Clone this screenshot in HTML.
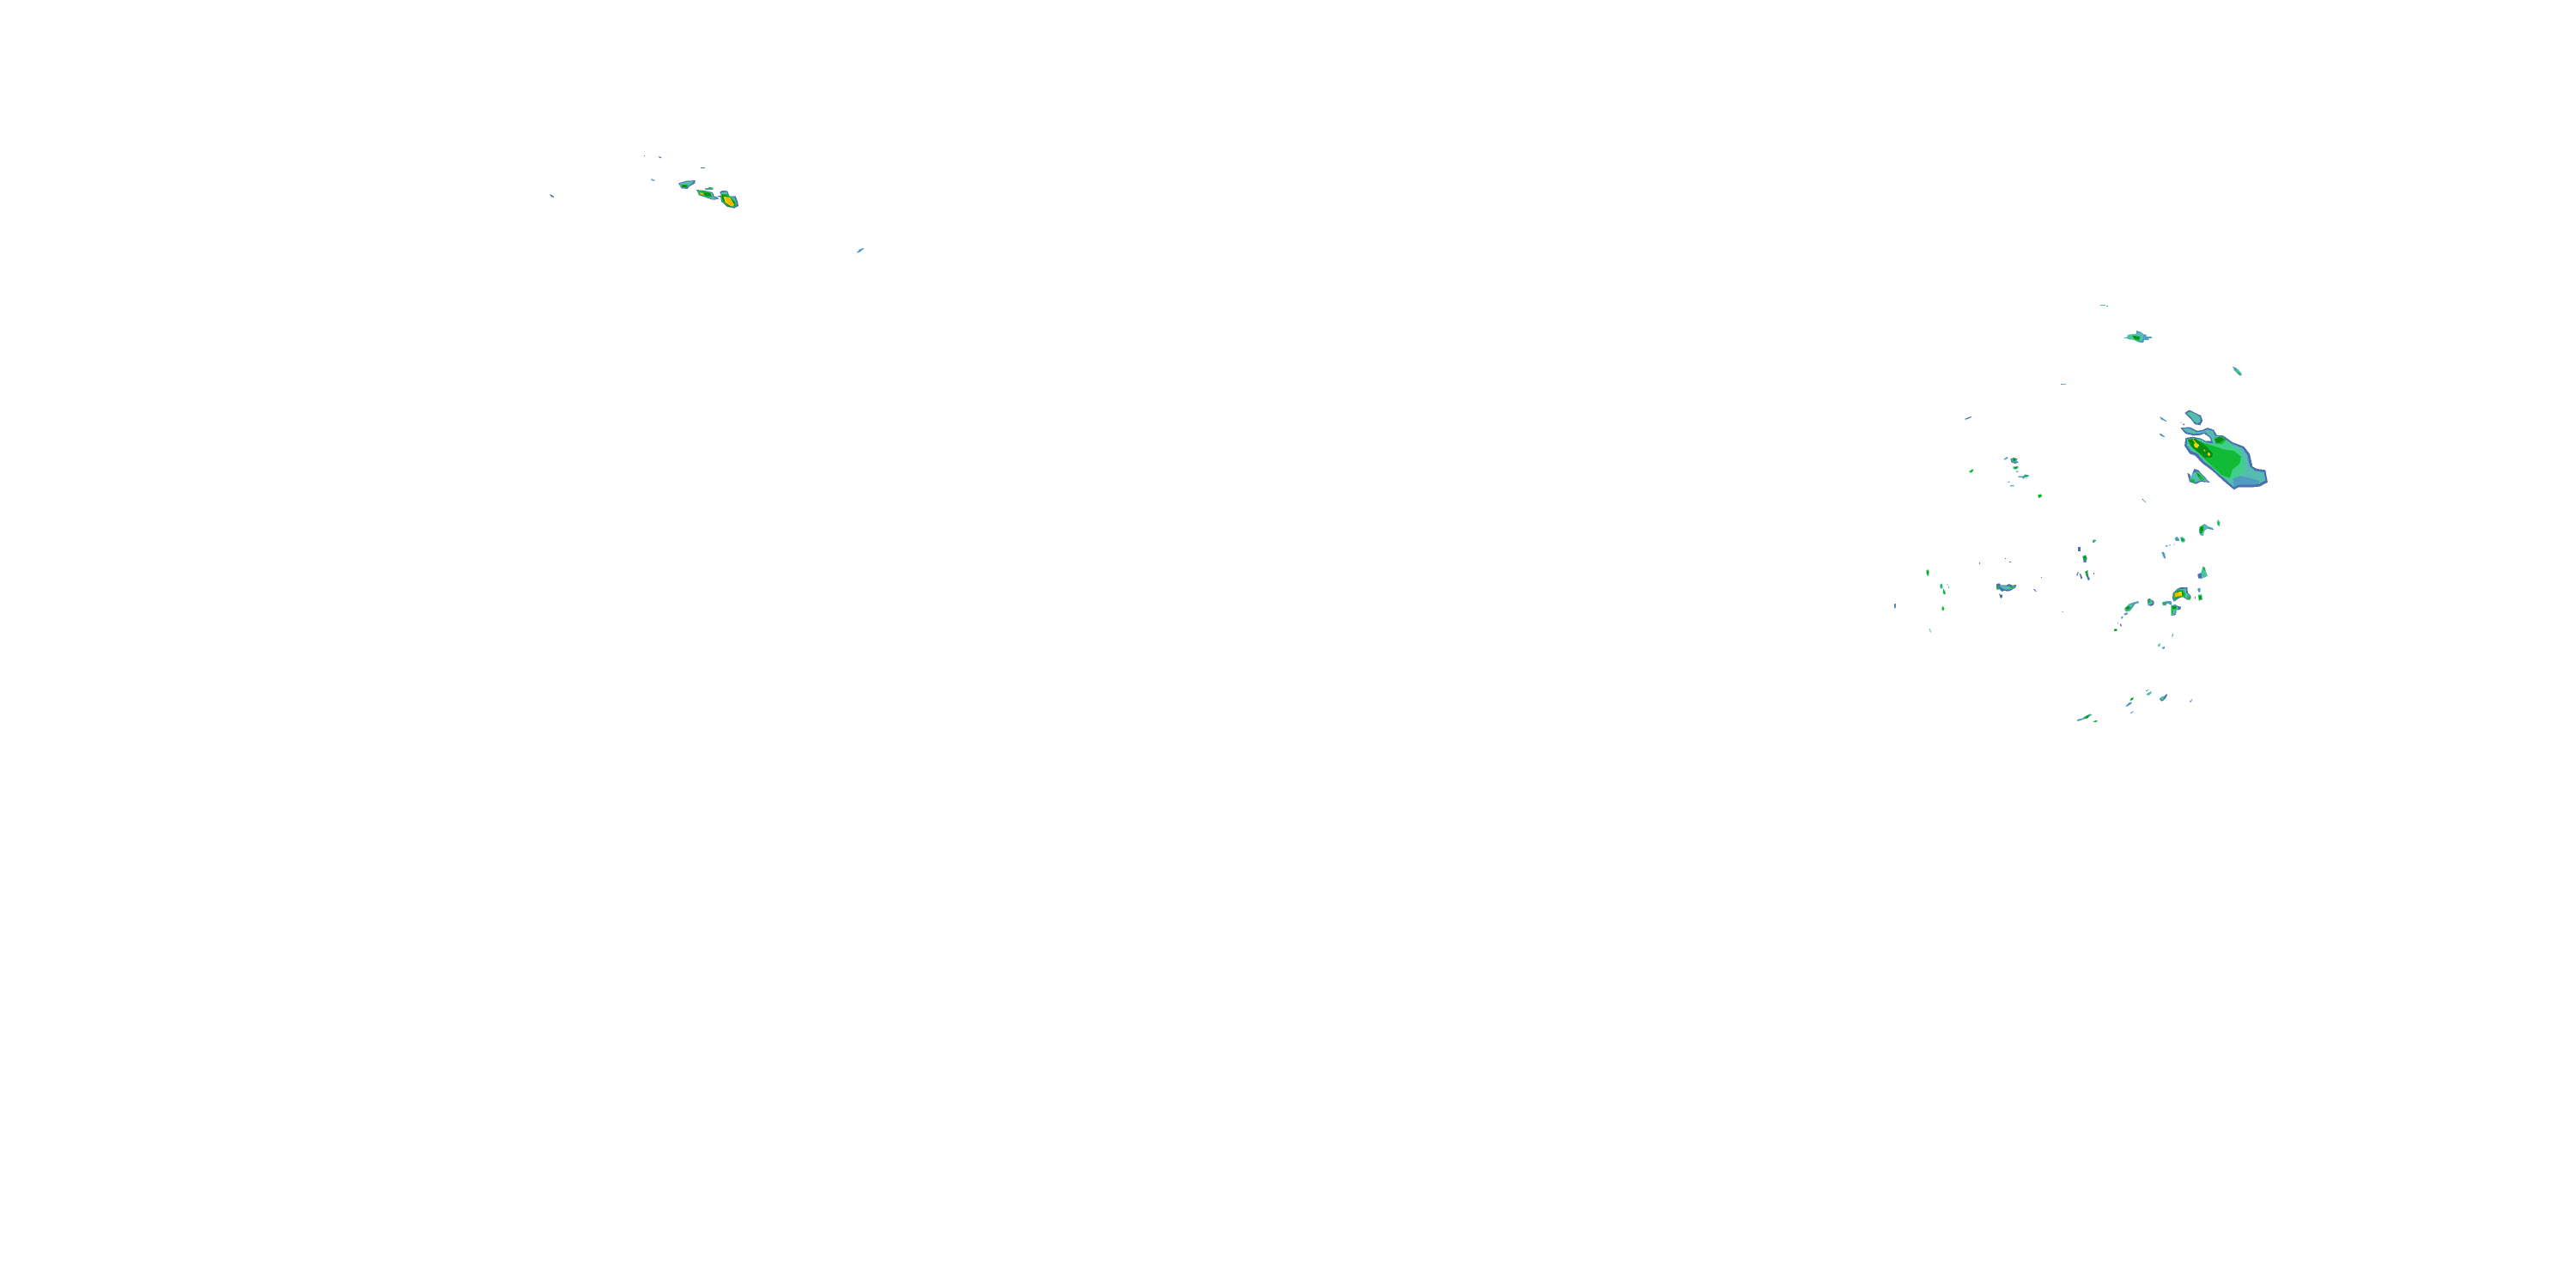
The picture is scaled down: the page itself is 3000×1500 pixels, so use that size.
<!DOCTYPE html>
<html><head><meta charset="utf-8"><style>
html,body{margin:0;padding:0;background:#fff}
svg{display:block}
.b{fill:#4b70b2}.c{fill:#4f9cc0}.t{fill:#55bdb0}.l{fill:#3fcf8a}.g{fill:#12bb35}.d{fill:#078f14}.y{fill:#f6d800}.o{fill:#f7b500}
</style></head><body>
<svg xmlns="http://www.w3.org/2000/svg" width="3000" height="1500" viewBox="0 0 3000 1500" shape-rendering="crispEdges">
<rect width="3000" height="1500" fill="#fff"/>

<!-- Main storm, zoom 1 coords -->
<g transform="translate(2500,460) scale(.33333)">
<polygon class="b" points="133,63 148,52 165,60 190,72 196,90 187,106 168,102 155,85 145,75"/>
<polygon class="t" points="140,64 150,58 170,66 188,78 188,92 178,100 165,92 155,78"/>
<polygon class="l" points="140,64 150,63 158,72 148,72"/>
<polygon class="c" points="45,75 55,80 71,92 68,93 50,85"/>
<polygon class="c" points="45,136 52,138 63,146 60,148 48,142"/>
<polygon class="b" points="118,94 122,94 122,98 118,98"/><polygon class="b" points="127,99 134,104 131,106 125,102"/>
<polygon class="b" points="118,115 150,112 176,125 195,122 213,114 235,122 245,140 268,142 300,165 340,180 360,205 370,250 385,258 415,262 423,305 395,320 360,323 322,322 305,331 268,300 230,265 192,237 170,212 150,205 132,178 136,150 160,146 190,152 205,160 225,160 220,148 200,135 190,140 165,142 135,135"/>
<polygon class="t" points="125,118 150,117 175,130 196,127 212,120 232,126 238,142 265,147 297,170 335,186 352,210 360,250 380,265 410,270 415,298 390,312 355,310 320,312 305,322 272,292 235,258 198,230 178,205 155,195 140,176 142,155 162,150 195,157 210,168 232,170 225,148 205,130 190,134 165,136 140,130"/>
<polygon class="c" points="300,280 340,285 360,290 395,300 390,312 355,314 322,314 305,322"/>
<polygon class="l" points="140,155 165,150 200,165 235,170 265,150 290,170 325,195 340,230 345,262 320,285 290,295 262,285 230,255 200,228 178,205 155,190"/>
<polygon class="g" points="142,158 165,152 200,168 240,180 268,190 305,195 330,215 325,240 300,260 290,290 262,280 230,250 203,225 180,202 160,185"/>
<polygon class="g" points="236,150 265,145 278,158 262,172 240,170"/>
<polygon class="d" points="238,155 255,145 272,155 258,165 245,168"/>
<polygon class="d" points="145,155 170,152 200,172 232,205 228,218 205,220 180,200 155,180"/>
<polygon class="y" points="165,172 172,166 184,175 178,185 168,183"/>
<polygon class="y" points="212,204 218,201 223,209 216,214"/>
<polygon class="o" points="160,155 165,155 175,170 170,170"/><polygon class="o" points="200,190 206,192 204,198 199,195"/>
<polygon class="b" points="142,272 150,276 155,285 166,258 180,262 221,306 190,303 172,311 150,304"/>
<polygon class="t" points="150,290 165,270 180,268 215,303 190,298 172,305 155,303"/>
<polygon class="g" points="172,270 182,275 205,298 185,295"/><polygon class="g" points="155,292 168,296 168,306 155,302"/>
<polygon class="d" points="176,272 186,282 180,288"/>
</g>

<!-- Northwest cluster, zoom 2 coords -->
<g transform="translate(620,160) scale(.33333)">
<rect class="b" x="390" y="63" width="3" height="3"/><polygon class="b" points="441,66 450,69 450,73 444,72"/>
<rect class="b" x="588" y="105" width="15" height="3"/>
<polygon class="b" points="60,198 75,206 75,210 66,208"/>
<polygon class="c" points="414,144 428,149 428,153 416,150"/>
<polygon class="b" points="510,160 538,152 570,150 568,160 548,172 542,180 520,178 516,170"/>
<polygon class="t" points="514,162 540,155 566,153 548,168 540,176 522,175"/>
<polygon class="g" points="520,165 544,165 542,175 524,175"/><rect class="d" x="524" y="166" width="14" height="8"/>
<polygon class="c" points="603,178 632,175 632,183 603,183"/><rect class="g" x="615" y="174" width="11" height="6"/>
<polygon class="b" points="573,183 598,185 630,192 635,205 650,210 650,216 630,218 600,208 582,202"/>
<polygon class="t" points="577,185 598,187 628,194 632,208 648,212 630,216 602,206 582,199"/>
<polygon class="g" points="578,184 596,186 620,194 628,208 610,208 584,200"/>
<polygon class="d" points="598,194 622,194 626,206 606,206"/><polygon class="o" points="584,192 598,196 598,202 588,199"/>
<polygon class="b" points="645,204 660,203 655,192 662,186 682,187 688,205 710,205 718,225 720,240 705,248 680,242 660,224 658,210"/>
<polygon class="t" points="660,192 680,190 684,205 706,210 714,230 712,240 702,244 682,238 664,222"/>
<polygon class="g" points="660,198 682,198 698,212 712,228 712,240 695,245 675,235 660,218"/>
<polygon class="d" points="662,200 680,204 706,225 708,238 690,244 675,232 664,216"/>
<polygon class="y" points="668,206 690,210 706,236 696,242 674,228"/>
<polygon class="o" points="674,208 688,212 704,234 694,240 678,226"/>
<polygon class="c" points="1158,387 1158,390 1152,394 1146,400 1138,402 1134,404 1134,402 1142,392 1152,388"/>
</g>

<!-- Northern cell, zoom 5 coords -->
<g transform="translate(2400,340) scale(.33333)">
<rect class="l" x="138" y="45" width="18" height="3"/><rect class="c" x="159" y="48" width="6" height="3"/>
<rect class="t" x="0" y="321" width="18" height="3"/><rect class="b" x="0" y="321" width="3" height="3"/>
<polygon class="c" points="222,159 232,158 234,150 254,147 264,146 264,135 280,140 290,148 302,150 295,155 316,156 320,161 305,163 310,168 292,168 288,177 272,176 256,168 234,165 232,162 222,162"/>
<polygon class="t" points="232,152 254,148 276,142 288,148 288,165 280,172 258,168 234,163"/>
<polygon class="l" points="240,152 258,150 280,160 285,168 270,172 255,165 242,160"/>
<polygon class="g" points="250,152 274,155 276,170 260,168"/><polygon class="d" points="250,153 276,157 274,165 256,163"/>
<polygon class="c" points="600,261 612,265 632,285 632,291 626,293 606,274"/>
<polygon class="l" points="610,272 620,270 630,284 624,288"/><polygon class="g" points="616,276 628,286 622,287"/>
</g>
<polygon class="b" points="2288,488 2295,485 2296,486 2289,489"/>

<!-- Mid cluster, zoom 4 coords -->
<g transform="translate(2180,500) scale(.33333)">
<polygon class="c" points="1005,15 1012,16 1023,25 1018,26"/>
<polygon class="c" points="460,105 470,97 476,97 474,102 464,107"/>
<polygon class="b" points="484,103 495,99 510,103 506,108 512,116 500,120 488,116"/>
<polygon class="t" points="488,104 505,102 508,116 492,116"/><polygon class="g" points="492,102 504,102 502,112 494,112"/><rect class="d" x="494" y="104" width="7" height="6"/>
<polygon class="t" points="492,131 512,129 512,134 504,140 495,140"/><polygon class="g" points="497,130 510,130 506,138 498,138"/><rect class="d" x="500" y="131" width="6" height="5"/>
<rect class="t" x="504" y="146" width="8" height="4"/>
<polygon class="c" points="512,164 530,163 534,158 549,159 546,166 534,168 530,174 524,168 512,168"/>
<polygon class="g" points="534,160 548,160 544,166 534,166"/>
<rect class="b" x="538" y="170" width="3" height="3"/>
<polygon class="c" points="474,184 482,181 482,184 476,186"/>
<rect class="t" x="483" y="195" width="14" height="5"/>
<polygon class="g" points="340,147 352,139 356,140 350,150 342,152"/><polygon class="d" points="344,146 350,142 350,148"/>
<polygon class="g" points="580,229 590,226 595,232 590,238 582,240"/><polygon class="d" points="582,232 588,232 586,238"/>
<polygon class="b" points="942,243 947,243 952,250"/><polygon class="g" points="946,246 958,253 954,255"/>
<rect class="b" x="720" y="411" width="9" height="15"/>
<polygon class="t" points="770,388 780,384 783,390 776,397 771,396"/><rect class="g" x="772" y="388" width="7" height="6"/>
<polygon class="b" points="736,443 748,439 752,450 748,465 740,465"/><polygon class="g" points="738,442 750,443 748,458 740,458"/><rect class="d" x="740" y="445" width="7" height="7"/>
<polygon class="b" points="725,503 730,505 736,520 730,523"/>
<polygon class="b" points="714,510 720,497 722,500 718,512"/>
<polygon class="b" points="745,497 754,492 756,510 762,525 756,528 750,515"/><polygon class="g" points="745,495 754,495 754,510 747,510"/><rect class="d" x="748" y="497" width="5" height="6"/>
<rect class="b" x="774" y="501" width="3" height="6"/>
<rect class="b" x="375" y="465" width="3" height="6"/><rect class="b" x="465" y="450" width="3" height="3"/><rect class="b" x="480" y="462" width="6" height="3"/><rect class="b" x="591" y="516" width="3" height="3"/>
<rect class="b" x="664" y="636" width="3" height="3"/>
<polygon class="b" points="564,558 568,558 576,566 572,567"/>
<polygon class="t" points="190,492 196,489 200,496 200,512 192,512"/><polygon class="g" points="190,492 200,494 198,508 192,508"/><rect class="d" x="193" y="496" width="5" height="7"/>
<polygon class="t" points="238,541 246,538 248,556 240,557"/><polygon class="g" points="238,542 245,544 244,554 239,554"/>
<rect class="b" x="262" y="541" width="3" height="3"/><rect class="l" x="267" y="549" width="3" height="6"/>
<polygon class="g" points="250,556 256,568 258,574 252,578 248,570"/>
<polygon class="c" points="78,610 84,609 84,624 78,626"/><rect class="b" x="78" y="610" width="4" height="6"/>
<polygon class="g" points="246,618 250,620 254,626 250,634 244,630"/>
<polygon class="t" points="200,696 204,698 207,710 204,710"/>
<polygon class="b" points="435,540 446,538 450,544 470,544 480,540 490,545 504,543 503,552 494,558 480,566 460,564 454,568 444,558 436,562"/>
<polygon class="t" points="445,546 470,548 490,550 498,546 495,556 478,560 458,558"/>
<polygon class="g" points="436,548 445,550 444,560 438,560"/><polygon class="g" points="482,549 496,546 492,556 484,555"/>
<polygon class="b" points="446,578 456,578 456,586 452,591 447,586"/><rect class="b" x="444" y="575" width="3" height="3"/>
</g>

<!-- Southeast cluster, zoom 3 coords -->
<g transform="translate(2440,600) scale(.33333)">
<rect class="b" x="0" y="87" width="3" height="3"/>
<polygon class="c" points="364,42 382,30 396,40 410,44 416,52 405,50 392,47 380,55 378,72 368,70 363,60"/>
<polygon class="t" points="366,44 382,33 395,43 385,50 376,68 368,65"/>
<polygon class="g" points="366,40 378,36 380,48 374,65 366,62"/><rect class="d" x="368" y="42" width="8" height="12"/><rect class="d" x="367" y="56" width="5" height="6"/>
<polygon class="t" points="425,22 430,15 437,26 434,40 428,35"/><polygon class="g" points="426,26 434,24 434,34 428,34"/>
<polygon class="c" points="278,82 285,75 292,80 295,90 282,90"/>
<polygon class="t" points="297,78 305,75 315,85 312,95 302,94"/><polygon class="g" points="300,80 312,84 310,92 302,92"/><rect class="d" x="302" y="83" width="6" height="6"/>
<rect class="c" x="246" y="105" width="8" height="4"/><rect class="b" x="259" y="102" width="4" height="4"/><rect class="c" x="274" y="100" width="4" height="4"/>
<polygon class="c" points="232,130 240,128 245,140 246,152 240,150"/>
<polygon class="t" points="376,178 384,182 386,192 390,205 393,212 385,216 372,222 360,220 358,206 370,200"/>
<polygon class="b" points="358,206 372,204 372,220 360,220"/><polygon class="g" points="376,182 385,186 384,194 378,194"/><polygon class="l" points="372,195 382,196 382,212 374,212"/>
<polygon class="c" points="358,256 368,254 368,268 360,268"/>
<polygon class="t" points="360,278 372,276 375,295 362,299"/><rect class="g" x="361" y="280" width="12" height="16"/><rect class="d" x="363" y="284" width="7" height="8"/>
<rect class="b" x="348" y="285" width="3" height="6"/>
<polygon class="b" points="272,272 285,258 298,252 322,252 324,270 335,282 333,296 322,296 306,285 290,292 276,302 270,292"/>
<polygon class="t" points="274,274 288,260 318,256 318,270 332,284 326,294 306,282 288,290 276,298"/>
<polygon class="g" points="272,274 288,262 306,260 316,272 314,286 296,286 278,296"/>
<polygon class="d" points="274,276 290,264 305,264 310,280 296,284 278,290"/>
<polygon class="o" points="278,272 302,266 304,282 290,284 277,288"/><polygon class="y" points="292,268 302,266 304,280 294,278"/>
<polygon class="g" points="322,282 334,284 332,296 324,294"/>
<polygon class="c" points="234,304 250,300 266,300 268,315 252,308 246,316 236,314"/><polygon class="g" points="236,304 246,304 244,314 237,314"/>
<polygon class="b" points="265,316 280,312 290,318 300,320 298,330 284,332 282,348 266,352"/>
<polygon class="t" points="266,318 282,314 290,322 290,330 280,332 280,345 266,350"/>
<polygon class="g" points="266,318 284,316 286,328 272,330 272,345 266,345"/><rect class="d" x="272" y="318" width="10" height="9"/>
<polygon class="b" points="183,294 190,291 205,300 206,312 196,318 184,314"/>
<polygon class="t" points="184,294 196,296 202,308 190,314 184,310"/><polygon class="g" points="184,294 192,294 194,305 186,308"/>
<polygon class="c" points="102,326 118,310 132,305 150,300 154,306 140,310 132,322 122,335 106,336"/>
<polygon class="t" points="104,326 116,312 130,310 126,324 116,334 106,334"/><polygon class="g" points="106,322 118,316 126,322 116,332 107,332"/><rect class="d" x="110" y="320" width="9" height="8"/>
<polygon class="c" points="100,345 112,338 114,346 104,350"/><polygon class="c" points="90,356 98,353 96,362 92,362"/>
<rect class="b" x="78" y="377" width="3" height="3"/><polygon class="b" points="87,380 91,380 93,388 88,388"/>
<rect class="g" x="66" y="397" width="10" height="8"/><rect class="d" x="69" y="398" width="6" height="4"/>
<polygon class="t" points="270,414 273,414 272,424 267,426"/>
<polygon class="l" points="218,454 226,447 228,452 224,459 219,458"/>
<polygon class="c" points="234,462 243,459 243,466 236,468"/>
</g>

<!-- South cluster, zoom 6 coords -->
<g transform="translate(2400,780) scale(.33333)">
<polygon class="c" points="57,174 74,170 90,160 100,155 111,156 100,163 90,170 74,175 59,180"/>
<polygon class="g" points="82,166 96,158 102,160 94,170 84,171"/><rect class="d" x="88" y="162" width="8" height="6"/>
<polygon class="g" points="114,180 122,177 129,178 124,183 115,183"/>
<polygon class="g" points="240,105 248,98 255,96 252,104 244,108"/><rect class="d" x="246" y="100" width="5" height="5"/>
<polygon class="c" points="225,126 232,122 240,114 248,112 246,120 236,126 228,129"/>
<polygon class="c" points="243,150 252,145 255,147 248,151 244,153"/>
<rect class="c" x="297" y="72" width="6" height="3"/><rect class="c" x="303" y="69" width="3" height="3"/>
<polygon class="t" points="300,84 310,78 318,75 316,82 310,88 302,90"/>
<polygon class="b" points="345,102 351,95 362,92 370,84 372,88 366,100 358,108 350,110"/>
<polygon class="l" points="349,96 362,94 358,104 350,106"/>
<polygon class="b" points="450,112 458,103 462,103 454,112 451,114"/>
</g>
</svg>
</body></html>
